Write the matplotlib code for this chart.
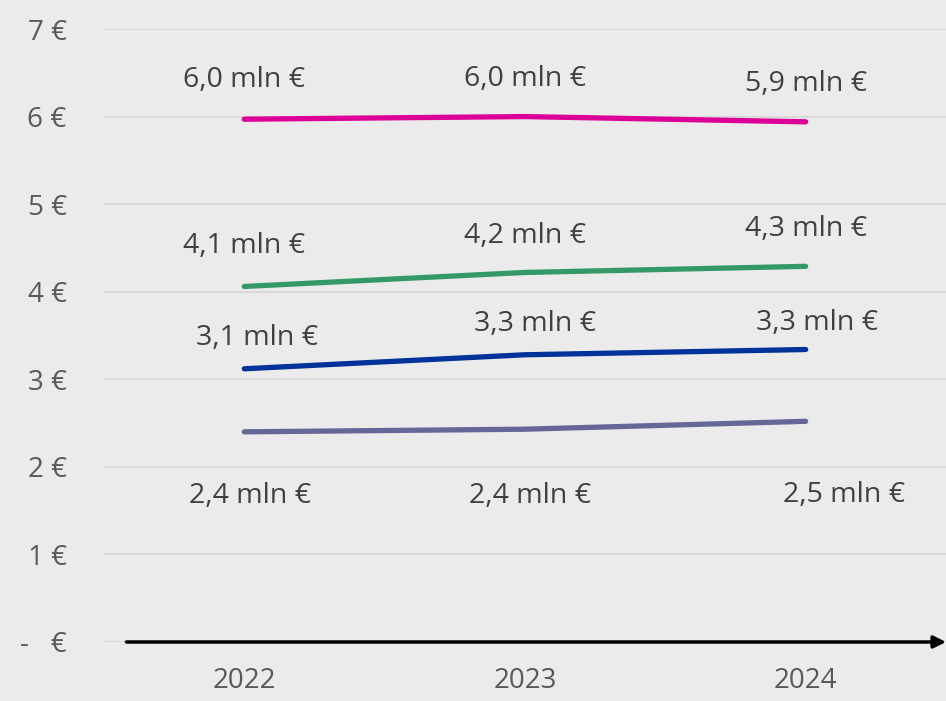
import matplotlib.pyplot as plt

plt.rcParams['font.family'] = ['Open Sans', 'DejaVu Sans']

years = ['2022', '2023', '2024']
magenta = [5.97, 6.00, 5.94]
green = [4.06, 4.22, 4.29]
blue = [3.12, 3.28, 3.34]
purple = [2.40, 2.43, 2.52]

magenta_lbl = ['6,0 mln €', '6,0 mln €', '5,9 mln €']
green_lbl = ['4,1 mln €', '4,2 mln €', '4,3 mln €']
blue_lbl = ['3,1 mln €', '3,3 mln €', '3,3 mln €']
purple_lbl = ['2,4 mln €', '2,4 mln €', '2,5 mln €']

yticks = [0, 1, 2, 3, 4, 5, 6, 7]
ytick_labels = ['-   €', '1 €', '2 €', '3 €', '4 €', '5 €', '6 €', '7 €']

bg = '#ebebeb'
fig = plt.figure(figsize=(9.46, 7.01), dpi=100, facecolor=bg)
ax = fig.add_axes([104 / 946, 59 / 701, 842 / 946, 613 / 701], facecolor=bg)

x = range(len(years))
series = [
    (magenta, magenta_lbl, '#dc0096', [(0, 28), (0, 27), (0, 27)]),
    (green, green_lbl, '#339966', [(0, 29), (0, 26), (0, 27)]),
    (blue, blue_lbl, '#003399', [(9, 22), (7, 22), (8, 19)]),
    (purple, purple_lbl, '#666699', [(4, -46), (4, -48), (28, -53)]),
]
for vals, lbls, col, offs in series:
    ax.plot(x, vals, color=col, lw=3.8, solid_capstyle='round', zorder=3)
    for i, (v, t) in enumerate(zip(vals, lbls)):
        ax.annotate(t, (i, v), xytext=offs[i], textcoords='offset points',
                    ha='center', va='center', fontsize=20.5, color='#404040')

ax.set_xlim(-0.5, 2.5)
ax.set_ylim(0, 7)
ax.set_yticks(yticks)
ax.set_yticklabels(ytick_labels)
ax.set_xticks(list(x))
ax.set_xticklabels(years)
ax.yaxis.grid(True, color='#d9d9d9', lw=1.5)
ax.set_axisbelow(True)
ax.tick_params(length=0, labelsize=20, labelcolor='#595959')
ax.tick_params(axis='y', pad=27)
ax.tick_params(axis='x', pad=18)
for s in ax.spines.values():
    s.set_visible(False)
for lab in ax.get_yticklabels():
    lab.set_ha('right')

ax.annotate('', xy=(2.5, 0), xytext=(-0.42, 0),
            arrowprops=dict(arrowstyle='-|>', color='black', lw=2.5,
                            mutation_scale=18, shrinkA=0, shrinkB=0),
            annotation_clip=False, zorder=4)

fig.savefig('out.png', dpi=100, facecolor=bg)
